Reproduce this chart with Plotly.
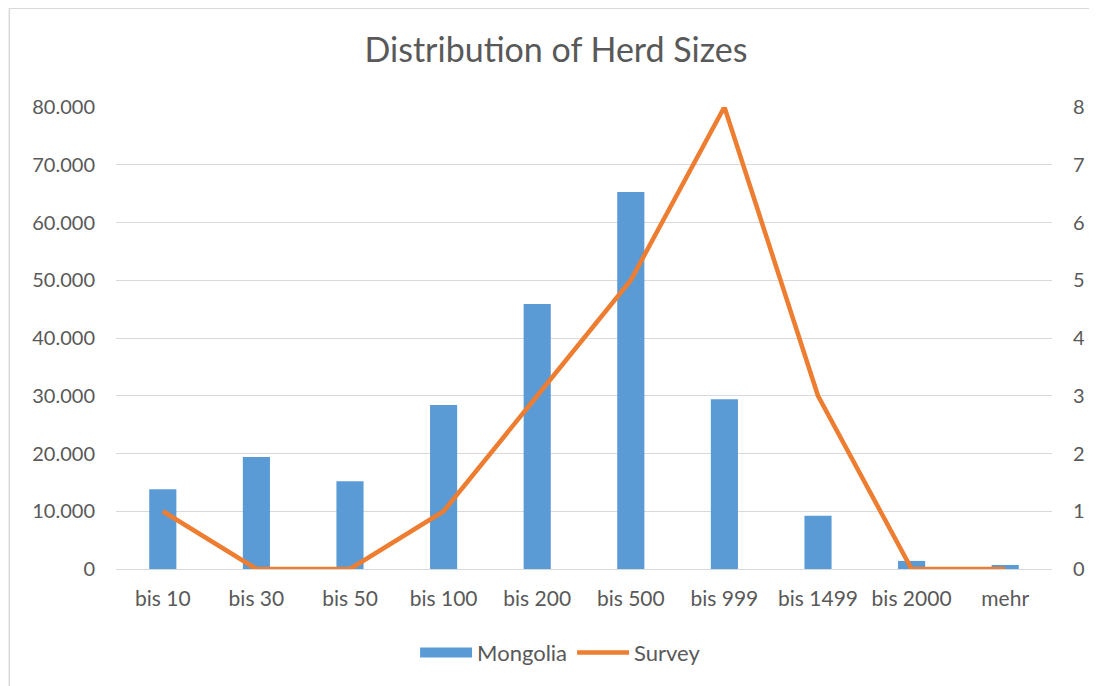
import plotly.graph_objects as go

categories = ["bis 10", "bis 30", "bis 50", "bis 100", "bis 200", "bis 500",
              "bis 999", "bis 1499", "bis 2000", "mehr"]
mongolia = [13800, 19400, 15200, 28400, 45900, 65300, 29400, 9200, 1400, 700]
survey = [1, 0, 0, 1, 3, 5, 8, 3, 0, 0]

FONT = "Lato"
TXT = "#595959"
GRID = "#D9D9D9"
BLUE = "#5B9BD5"
ORANGE = "#ED7D31"

W, H = 1089, 678
L, R, T, B = 108, 42, 99, 116
pw, ph = W - L - R, H - T - B

fig = go.Figure()
fig.add_trace(go.Bar(x=categories, y=mongolia, name="Mongolia", showlegend=False,
                     marker=dict(color=BLUE, line=dict(width=0))))
fig.add_trace(go.Scatter(x=[None], y=[None], name="Mongolia", mode="lines",
                         line=dict(color=BLUE, width=15), showlegend=True))
fig.add_trace(go.Scatter(x=categories, y=survey, name="Survey", yaxis="y2",
                         mode="lines", line=dict(color=ORANGE, width=4.5)))

fig.update_layout(
    width=W, height=H,
    margin=dict(l=L, r=R, t=T, b=B),
    paper_bgcolor="white", plot_bgcolor="white",
    separators=",.",
    bargap=0.71,
    font=dict(family=FONT, color=TXT, size=20),
    title=dict(text="Distribution of Herd Sizes", x=(556 - 8) / W, xanchor="center",
               y=1 - 42 / H, yanchor="middle",
               font=dict(family=FONT, size=34, color=TXT)),
    xaxis=dict(showgrid=False, showline=True, linecolor=GRID, linewidth=1,
               ticks="", tickfont=dict(size=21, color=TXT),
               ticklabelstandoff=11),
    yaxis=dict(range=[0, 80000], dtick=10000, tickformat=",d",
               showgrid=True, gridcolor=GRID, gridwidth=1, zeroline=False,
               showline=False, tickfont=dict(size=20, color=TXT),
               ticklabelstandoff=20),
    yaxis2=dict(range=[0, 8], dtick=1, overlaying="y", side="right",
                showgrid=False, zeroline=False, showline=False,
                tickfont=dict(size=20, color=TXT), ticklabelstandoff=20),
    legend=dict(orientation="h", x=(562 - 8 - L) / pw, xanchor="center",
                y=(562 - 646) / ph, yanchor="middle",
                font=dict(size=22, color=TXT),
                itemwidth=52, traceorder="normal"),
    shapes=[dict(type="rect", xref="paper", yref="paper",
                 x0=(1 - L) / pw, x1=1.3, y0=-0.6, y1=1 + (T - 0) / ph,
                 line=dict(color=GRID, width=1.5), fillcolor="rgba(0,0,0,0)",
                 layer="below")],
)

fig.write_html("out.html")
